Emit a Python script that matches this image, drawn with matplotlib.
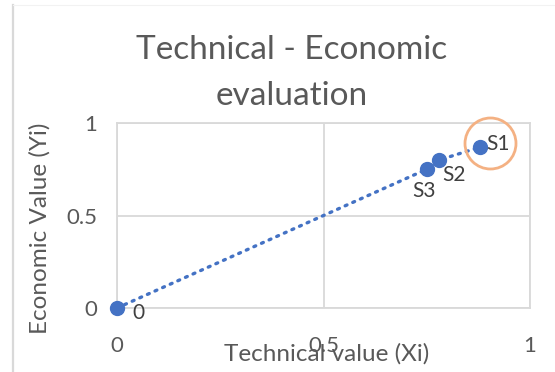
import matplotlib
matplotlib.use("Agg")
import matplotlib.pyplot as plt
from matplotlib.lines import Line2D
from matplotlib.transforms import ScaledTranslation

# Scenario scores
labels = ["0", "S3", "S2", "S1"]
tech_x = [0.0, 0.75, 0.78, 0.88]
econ_y = [0.0, 0.75, 0.80, 0.87]
tick_vals = [0, 0.5, 1]
tick_text = ["0", "0.5", "1"]

W, H, DPI = 555, 372, 100
BLUE = "#4472C4"
GRID = "#D9D9D9"
TXT = "#595959"
FONT = ["Lato", "DejaVu Sans"]
plt.rcParams["font.family"] = FONT

fig = plt.figure(figsize=(W / DPI, H / DPI), dpi=DPI)
fig.patch.set_facecolor("white")

def px(x, y):
    return x / W, 1 - y / H

# chart area frame (left edge and faint top edge)
fig.add_artist(Line2D([12.5 / W, 12.5 / W], [0, 1 - 5 / H], transform=fig.transFigure,
                      color="#D9D9D9", lw=1.6))
fig.add_artist(Line2D([12.5 / W, 1], [1 - 5 / H, 1 - 5 / H], transform=fig.transFigure,
                      color="#F2F2F2", lw=0.8))

x0, x1, y0, y1 = 117, 530, 308, 123
ax = fig.add_axes([x0 / W, 1 - y0 / H, (x1 - x0) / W, (y0 - y1) / H])
ax.set_xlim(0, 1)
ax.set_ylim(0, 1)
for s in ax.spines.values():
    s.set_color(GRID)
    s.set_linewidth(1.3)
ax.set_xticks(tick_vals)
ax.set_xticklabels(tick_text)
ax.set_yticks(tick_vals)
ax.set_yticklabels(tick_text)
ax.tick_params(axis="x", length=0, pad=20, labelsize=16, labelcolor=TXT)
ax.tick_params(axis="y", length=0, pad=14, labelsize=16, labelcolor=TXT)
ax.grid(True, color=GRID, lw=1.3)
ax.set_axisbelow(True)

ax.plot(tech_x, econ_y, color=BLUE, lw=2.4, linestyle=(0, (0.6, 1.9)),
        dash_capstyle="round", clip_on=False, zorder=3)
ax.plot(tech_x, econ_y, "o", color=BLUE, ms=10, mec=BLUE, clip_on=False, zorder=4,
        linestyle="none")

offsets = {"0": (21, -5), "S3": (-3, -22), "S2": (15, -15), "S1": (18, 3)}
for lab, xv, yv in zip(labels, tech_x, econ_y):
    dx, dy = offsets[lab]
    ax.annotate(lab, (xv, yv), xytext=(dx * 72 / DPI, dy * 72 / DPI),
                textcoords="offset points", ha="center", va="center",
                fontsize=15, color="#404040", zorder=5)

# highlight ring around the best scenario (S1)
best = len(tech_x) - 1
ring_shift = ScaledTranslation(10 / DPI, 4 / DPI, fig.dpi_scale_trans)
ax.plot([tech_x[best]], [econ_y[best]], marker="o", ms=51 * 72 / DPI, mfc="none",
        mec="#F4B183", mew=2.0, linestyle="none", clip_on=False, zorder=6,
        transform=ax.transData + ring_shift)

fig.text(*px(292, 50), "Technical - Economic", ha="center", va="center",
         fontsize=24, color=TXT)
fig.text(*px(292, 96), "evaluation", ha="center", va="center",
         fontsize=24, color=TXT)
fig.text(*px(40, 228), "Economic Value (Yi)", rotation=90, ha="center", va="center",
         fontsize=17.5, color=TXT)
fig.text(*px(327, 354), "Technical value (Xi)", ha="center", va="center",
         fontsize=17.5, color=TXT)

fig.savefig("out.png", dpi=DPI)
